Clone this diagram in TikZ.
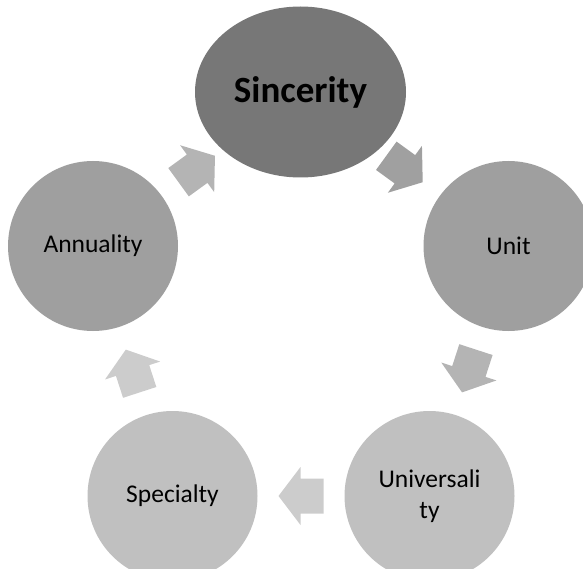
\documentclass[tikz,border=0pt]{standalone}
\usepackage{fontspec}
\setmainfont{Carlito}
\usetikzlibrary{shapes.geometric,calc}
\definecolor{cTop}{HTML}{777777}
\definecolor{cMid}{HTML}{9F9F9F}
\definecolor{cLow}{HTML}{C0C0C0}
\definecolor{aOne}{HTML}{A0A0A0}
\definecolor{aTwo}{HTML}{B4B4B4}
\definecolor{aThree}{HTML}{CCCCCC}
\newcommand\blockarr[4]{%
  \fill[#4, shift={($(#1.center)!0.5!(#2.center)$)}, rotate=#3]
    (22.5,0) -- (0.5,29) -- (0.5,17.5) -- (-22.5,17.5) -- (-22.5,-17.5)
    -- (0.5,-17.5) -- (0.5,-29) -- cycle;}
\begin{document}
\begin{tikzpicture}[x=1pt,y=-1pt,
  bubble/.style={circle, minimum size=170pt, inner sep=0pt, align=center,
    font=\fontsize{25.5}{31.5}\selectfont},
  topbubble/.style={ellipse, minimum width=211pt, minimum height=171pt,
    inner sep=0pt, font=\bfseries\fontsize{37}{44}\selectfont}]
\useasboundingbox (0,0) rectangle (583,569);
\clip (0,0) rectangle (583,569);
\node[topbubble, fill=cTop] (sinc) at (300.5,92) {Sincerity};
\node[bubble, fill=cMid] (unit) at (508.5,246) {Unit};
\node[bubble, fill=cLow] (univ) at (429.5,496) {Universali\\ty};
\node[bubble, fill=cLow] (spec) at (172.5,496) {Specialty};
\node[bubble, fill=cMid] (ann) at (93,246) {Annuality};
\blockarr{sinc}{unit}{-36}{aOne}
\blockarr{unit}{univ}{-108}{aTwo}
\blockarr{univ}{spec}{180}{aThree}
\blockarr{spec}{ann}{108}{aThree}
\blockarr{ann}{sinc}{36}{aTwo}
\end{tikzpicture}
\end{document}
